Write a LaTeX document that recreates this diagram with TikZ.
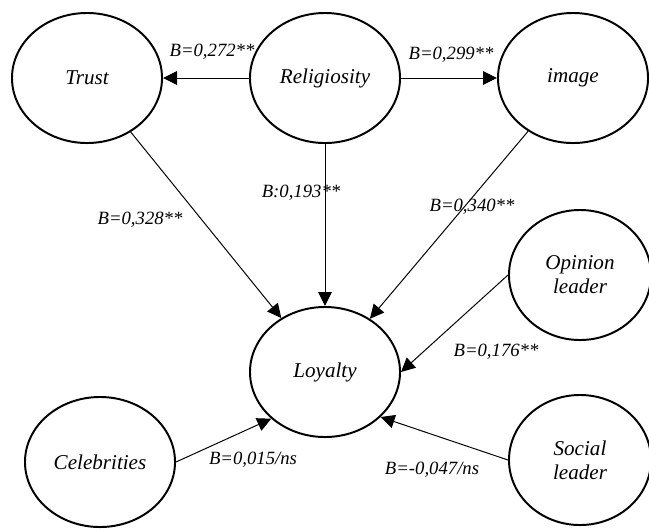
\documentclass[tikz,border=0pt]{standalone}
\usepackage{fontspec}
\setmainfont{Liberation Serif}
\usetikzlibrary{arrows.meta,shapes.geometric}

\begin{document}
\begin{tikzpicture}[x=0.025cm,y=-0.025cm,>={Triangle[length=3.5mm,width=3.4mm]},
latent/.style={draw,ellipse,line width=1.4pt,minimum width=37.5mm,minimum height=32.5mm,inner sep=0pt,align=center,font=\fontsize{15}{17}\selectfont\itshape},
small/.style={minimum width=35.5mm},
path/.style={->,line width=0.7pt},
coef/.style={inner sep=1pt,font=\fontsize{13.3}{16}\selectfont\itshape}]
\useasboundingbox (0,0) rectangle (649,528);
\node[latent] (trust) at (87,78) {Trust};
\node[latent] (rel) at (325,78) {Religiosity};
\node[latent] (img) at (573,78) {image};
\node[latent,small] (opin) at (580,275) {Opinion\\leader};
\node[latent] (loy) at (325,372) {Loyalty};
\node[latent] (celeb) at (100,462) {Celebrities};
\node[latent,small] (soc) at (580,460) {Social\\leader};
\draw[path] (rel) -- (trust);
\draw[path] (rel) -- (img);
\draw[path] (trust) -- (loy);
\draw[path] (rel) -- (loy);
\draw[path] (img) -- (loy);
\draw[path] (opin.west) -- (loy.east);
\draw[path] (soc.west) -- (loy.-39);
\draw[path] (celeb.east) -- (loy.-139);
\node[coef] (c1) at (212,52) {B=0,272**};
\node[coef] (c2) at (451,55) {B=0,299**};
\node[coef] (c3) at (301,193) {B:0,193**};
\node[coef] (c4) at (140,220) {B=0,328**};
\node[coef] (c5) at (472,207) {B=0,340**};
\node[coef] (c6) at (496,352) {B=0,176**};
\node[coef] (c7) at (432,470) {B=-0,047/ns};
\node[coef] (c8) at (253,460) {B=0,015/ns};
\end{tikzpicture}
\end{document}
